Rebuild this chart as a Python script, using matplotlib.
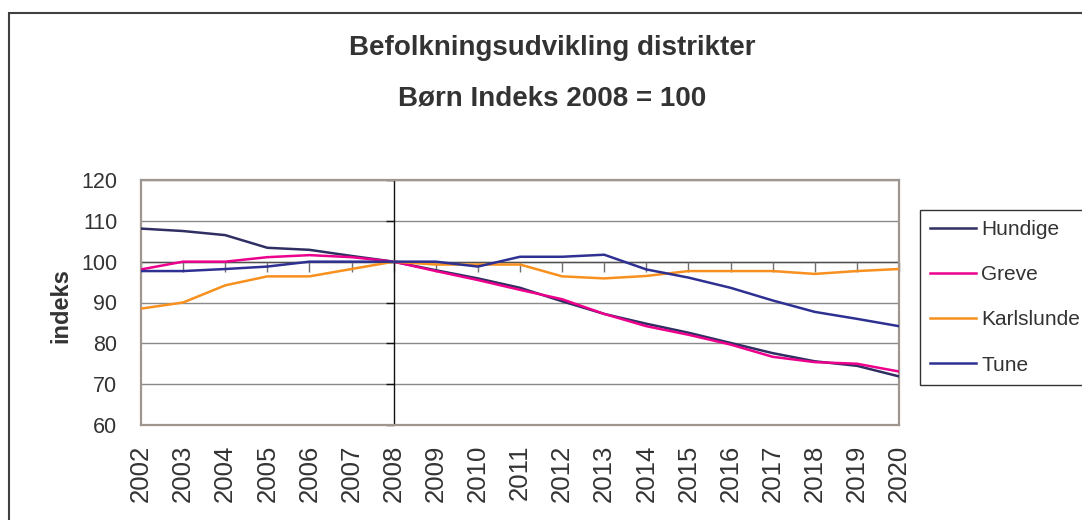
import matplotlib
matplotlib.use("Agg")
import matplotlib.pyplot as plt
from matplotlib.patches import Rectangle

years = list(range(2002, 2021))
hundige = [108.1, 107.5, 106.5, 103.4, 102.9, 101.4, 100.0, 97.9, 95.9, 93.6, 90.3, 87.2, 84.8, 82.6, 80.1, 77.6, 75.6, 74.5, 71.9]
greve = [98.1, 100.0, 100.0, 101.1, 101.6, 101.1, 100.0, 97.7, 95.5, 93.1, 90.8, 87.2, 84.2, 82.1, 79.7, 76.7, 75.4, 75.0, 73.1]
karlslunde = [88.5, 90.0, 94.2, 96.4, 96.4, 98.2, 100.0, 99.3, 99.3, 99.3, 96.4, 95.9, 96.5, 97.7, 97.7, 97.7, 97.0, 97.7, 98.2]
tune = [97.7, 97.7, 98.2, 98.8, 100.0, 100.0, 100.0, 100.0, 98.8, 101.2, 101.2, 101.7, 98.1, 96.1, 93.6, 90.5, 87.7, 86.0, 84.2]

series_names = ["Hundige", "Greve", "Karlslunde", "Tune"]
series_values = [hundige, greve, karlslunde, tune]
colors = ["#2f2f63", "#ec008c", "#f7901e", "#2e3192"]
yticks = [60, 70, 80, 90, 100, 110, 120]

title1 = "Befolkningsudvikling distrikter"
title2 = "Børn Indeks 2008 = 100"
ylabel = "indeks"

plt.rcParams["font.family"] = ["Liberation Sans", "DejaVu Sans"]

W, H = 1082, 520
fig = plt.figure(figsize=(W / 100, H / 100), dpi=100)
fig.patch.set_facecolor("white")

# outer chart border (continues beyond the right and bottom edges)
fig.add_artist(Rectangle((9 / W, -0.5), 2, 1.5 - 13 / H, transform=fig.transFigure,
                         fill=False, edgecolor="#404040", linewidth=1.5, clip_on=False))

ax = fig.add_axes([141 / W, 1 - 425 / H, (899 - 141) / W, (425 - 180) / H])
ax.set_xlim(years[0], years[-1])
ax.set_ylim(60, 120)
ax.set_yticks(yticks)
ax.set_xticks(years)
ax.set_xticklabels([str(y) for y in years], rotation=90, fontsize=18.5, color="#333333")
ax.set_yticklabels([str(v) for v in yticks], fontsize=15.5, color="#333333")
ax.tick_params(axis="both", length=0)
ax.tick_params(axis="x", pad=14)
ax.tick_params(axis="y", pad=17)
ax.grid(axis="y", color="#8a8a8a", linewidth=1.0)
ax.set_axisbelow(True)
for s in ax.spines.values():
    s.set_color("#a09690")
    s.set_linewidth(1.6)

# category axis line at 100 with ticks, value axis line at 2008 with ticks
ax.axhline(100, color="#505050", linewidth=1.0, zorder=1.5)
ax.plot(years, [100] * len(years), linestyle="none", marker=3, markersize=7,
        markeredgecolor="#707070", markeredgewidth=1.0, zorder=1.5, clip_on=False)
ax.axvline(2008, color="#111111", linewidth=1.0, zorder=1.5)
ax.plot([2008] * len(yticks), yticks, linestyle="none", marker=0, markersize=6,
        markeredgecolor="#111111", markeredgewidth=1.0, zorder=1.5, clip_on=False)

for name, vals, c in zip(series_names, series_values, colors):
    ax.plot(years, vals, color=c, linewidth=1.8, label=name, zorder=3)

ax.set_ylabel(ylabel, fontsize=17, fontweight="bold", color="#333333")
ax.yaxis.set_label_coords(-0.091, 0.486)

fig.text(552 / W, 1 - 55 / H, title1, ha="center", va="baseline", fontsize=20,
         fontweight="bold", color="#333333")
fig.text(552 / W, 1 - 105 / H, title2, ha="center", va="baseline", fontsize=20,
         fontweight="bold", color="#333333")

leg = fig.legend(loc="upper left", bbox_to_anchor=(920 / W, 1 - 210 / H),
                 bbox_transform=fig.transFigure, fontsize=15, frameon=True,
                 fancybox=False, edgecolor="#333333", framealpha=1, borderpad=0.5,
                 handlelength=2.2, handletextpad=0.23, labelspacing=1.25, borderaxespad=0)
leg.get_frame().set_linewidth(1.0)
for t in leg.get_texts():
    t.set_color("#333333")

fig.savefig("out.png", dpi=100, facecolor="white")
